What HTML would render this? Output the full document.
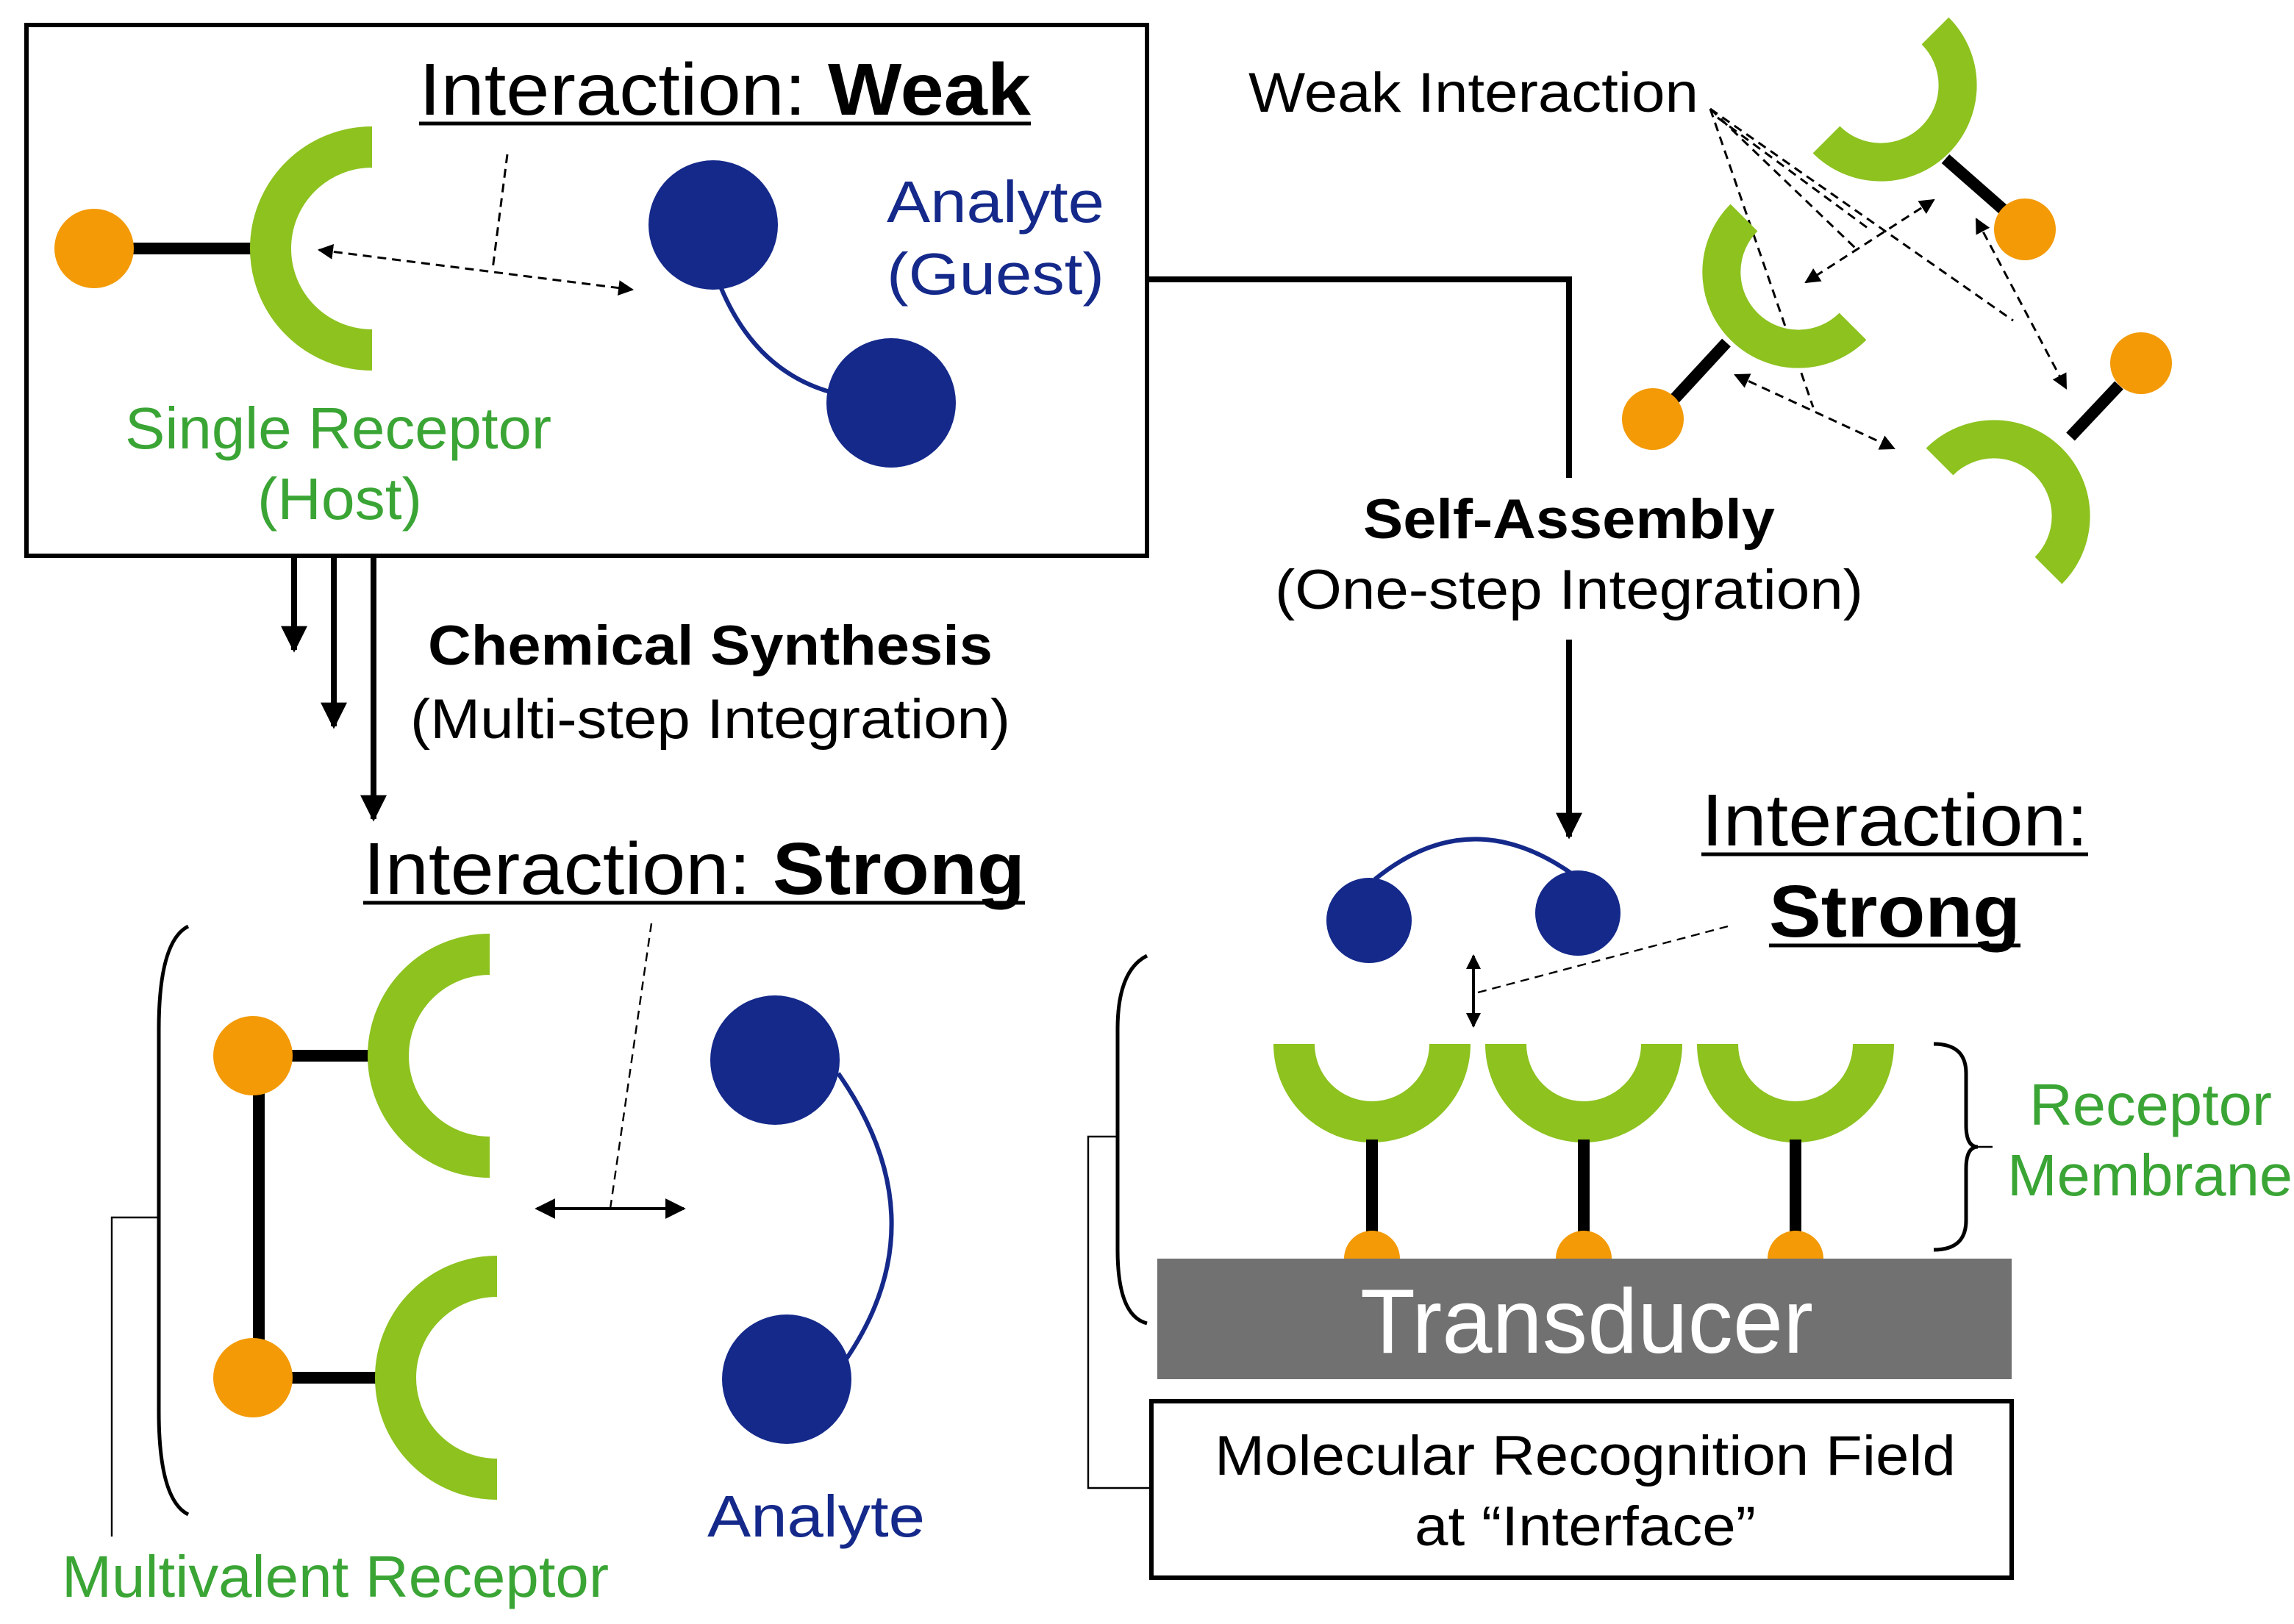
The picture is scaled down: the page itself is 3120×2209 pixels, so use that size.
<!DOCTYPE html>
<html><head><meta charset="utf-8"><style>html,body{margin:0;padding:0;background:#fff}svg{display:block}</style></head>
<body>
<svg width="3120" height="2209" viewBox="0 0 1560 1104.5" xmlns="http://www.w3.org/2000/svg" font-family="Liberation Sans, sans-serif">
<defs>
<marker id="a" viewBox="0 0 10 10" refX="9" refY="5" markerWidth="7" markerHeight="7" orient="auto-start-reverse"><path d="M0,0L10,5L0,10z" fill="#000"/></marker>
<marker id="c" viewBox="0 0 10 10" refX="9" refY="5" markerWidth="4.5" markerHeight="4.5" orient="auto-start-reverse"><path d="M0,0L10,5L0,10z" fill="#000"/></marker>
<marker id="b" viewBox="0 0 10 10" refX="9" refY="5" markerWidth="5" markerHeight="5" orient="auto-start-reverse"><path d="M0,0L10,5L0,10z" fill="#000"/></marker>
</defs>
<g fill="none">
<rect x="18" y="17" width="762" height="361" stroke="#000" stroke-width="3"/>
<line x1="90" y1="169" x2="180" y2="169" stroke="#000" stroke-width="8"/>
<path d="M253,100 A69,69 0 0 0 253,238" stroke="#8dc21f" stroke-width="28"/>
<line x1="345" y1="105" x2="335" y2="183" stroke="#000" stroke-width="1.5" stroke-dasharray="6,4"/>
<line x1="217" y1="170" x2="430" y2="197" stroke="#000" stroke-width="1.5" stroke-dasharray="6,4" marker-start="url(#a)" marker-end="url(#a)"/>
<path d="M490,195 Q515,255 570,268" stroke="#14298a" stroke-width="3"/>
<line x1="200" y1="378" x2="200" y2="442" stroke="#000" stroke-width="4" marker-end="url(#c)"/>
<line x1="227" y1="378" x2="227" y2="494" stroke="#000" stroke-width="4" marker-end="url(#c)"/>
<line x1="254" y1="378" x2="254" y2="557" stroke="#000" stroke-width="4" marker-end="url(#c)"/>
<path d="M128,630 Q108,640 108,700 L108,960 Q108,1020 128,1030" stroke="#000" stroke-width="2.5"/>
<polyline points="108,828 76,828 76,1045" stroke="#000" stroke-width="1.2"/>
<line x1="176" y1="718" x2="176" y2="937" stroke="#000" stroke-width="8"/>
<line x1="172" y1="718" x2="260" y2="718" stroke="#000" stroke-width="8"/>
<line x1="172" y1="937" x2="262" y2="937" stroke="#000" stroke-width="8"/>
<path d="M333,649 A69,69 0 0 0 333,787" stroke="#8dc21f" stroke-width="28"/>
<path d="M338,868 A69,69 0 0 0 338,1006" stroke="#8dc21f" stroke-width="28"/>
<line x1="443" y1="628" x2="415" y2="822" stroke="#000" stroke-width="1.2" stroke-dasharray="6,4"/>
<line x1="365" y1="822" x2="465" y2="822" stroke="#000" stroke-width="2" marker-start="url(#a)" marker-end="url(#a)"/>
<path d="M570,730 Q640,830 575,925" stroke="#14298a" stroke-width="3"/>
<polyline points="780,190 1067,190 1067,325" stroke="#000" stroke-width="4"/>
<line x1="1067" y1="435" x2="1067" y2="569" stroke="#000" stroke-width="4" marker-end="url(#c)"/>
<g stroke="#000" stroke-width="1.5" stroke-dasharray="6,4">
<line x1="1163" y1="74" x2="1262" y2="169"/>
<line x1="1163" y1="74" x2="1369" y2="218"/>
<line x1="1163" y1="74" x2="1233" y2="277"/>
<line x1="1168" y1="80" x2="1270" y2="155"/>
<line x1="1315" y1="136" x2="1228" y2="192" marker-start="url(#a)" marker-end="url(#a)"/>
<line x1="1344" y1="149" x2="1405" y2="264" marker-start="url(#a)" marker-end="url(#a)"/>
<line x1="1180" y1="255" x2="1288" y2="305" marker-start="url(#a)" marker-end="url(#a)"/>
</g>
<line x1="1323" y1="108" x2="1364" y2="144" stroke="#000" stroke-width="8"/>
<line x1="1174" y1="233" x2="1138" y2="272" stroke="#000" stroke-width="8"/>
<line x1="1408" y1="297" x2="1441" y2="262" stroke="#000" stroke-width="8"/>
<path d="M1316,21 A52,52 0 0 1 1242,95" stroke="#8dc21f" stroke-width="26"/>
<path d="M1186,148 A52,52 0 0 0 1260,222" stroke="#8dc21f" stroke-width="26"/>
<path d="M1319,314 A52,52 0 0 1 1393,388" stroke="#8dc21f" stroke-width="26"/>
<path d="M935,598 Q1000,545 1070,595" stroke="#14298a" stroke-width="3"/>
<line x1="1005" y1="675" x2="1175" y2="630" stroke="#000" stroke-width="1.2" stroke-dasharray="6,4"/>
<line x1="1002" y1="650" x2="1002" y2="698" stroke="#000" stroke-width="2" marker-start="url(#b)" marker-end="url(#b)"/>
<path d="M780,650 Q760,660 760,700 L760,850 Q760,895 780,900" stroke="#000" stroke-width="2.5"/>
<polyline points="760,773 740,773 740,1012 783,1012" stroke="#000" stroke-width="1.2"/>
<path d="M1315,710 Q1337,710 1337,730 L1337,765 Q1337,780 1345,780 Q1337,780 1337,795 L1337,830 Q1337,850 1315,850" stroke="#000" stroke-width="2.5"/>
<line x1="1345" y1="780" x2="1355" y2="780" stroke="#000" stroke-width="1.2"/>
<g stroke="#8dc21f" stroke-width="28">
<path d="M880,710 A53,53 0 0 0 986,710"/>
<path d="M1024,710 A53,53 0 0 0 1130,710"/>
<path d="M1168,710 A53,53 0 0 0 1274,710"/>
</g>
<g stroke="#000" stroke-width="8">
<line x1="933" y1="775" x2="933" y2="845"/>
<line x1="1077" y1="775" x2="1077" y2="845"/>
<line x1="1221" y1="775" x2="1221" y2="845"/>
</g>
<rect x="783" y="953" width="585" height="120" stroke="#000" stroke-width="3"/>
</g>
<g fill="#f39a06">
<circle cx="64" cy="169" r="27"/>
<circle cx="172" cy="718" r="27"/>
<circle cx="172" cy="937" r="27"/>
<circle cx="1377" cy="156" r="21"/>
<circle cx="1124" cy="285" r="21"/>
<circle cx="1456" cy="247" r="21"/>
<circle cx="933" cy="856" r="19"/>
<circle cx="1077" cy="856" r="19"/>
<circle cx="1221" cy="856" r="19"/>
</g>
<g fill="#14298a">
<circle cx="485" cy="153" r="44"/>
<circle cx="606" cy="274" r="44"/>
<circle cx="527" cy="721" r="44"/>
<circle cx="535" cy="938" r="44"/>
<circle cx="931" cy="626" r="29"/>
<circle cx="1073" cy="621" r="29"/>
</g>
<rect x="787" y="856" width="581" height="82" fill="#717171"/>
<text x="925" y="920" font-size="62" fill="#fff" textLength="308" lengthAdjust="spacingAndGlyphs">Transducer</text>
<g font-size="50" fill="#000" lengthAdjust="spacingAndGlyphs">
<text x="285" y="78" textLength="416" lengthAdjust="spacingAndGlyphs">Interaction: <tspan font-weight="bold">Weak</tspan></text>
<text x="247" y="608" textLength="450" lengthAdjust="spacingAndGlyphs">Interaction: <tspan font-weight="bold">Strong</tspan></text>
<text x="1157" y="575" textLength="263" lengthAdjust="spacingAndGlyphs">Interaction:</text>
<text x="1203" y="637" font-weight="bold" textLength="171" lengthAdjust="spacingAndGlyphs">Strong</text>
</g>
<g stroke="#000" stroke-width="2.5">
<line x1="285" y1="84" x2="701" y2="84"/>
<line x1="247" y1="614" x2="697" y2="614"/>
<line x1="1157" y1="581" x2="1420" y2="581"/>
<line x1="1203" y1="643" x2="1374" y2="643"/>
</g>
<g font-size="38" fill="#000">
<text x="291" y="452" font-weight="bold" textLength="384" lengthAdjust="spacingAndGlyphs">Chemical Synthesis</text>
<text x="279" y="502" textLength="408" lengthAdjust="spacingAndGlyphs">(Multi-step Integration)</text>
<text x="927" y="366" font-weight="bold" textLength="280" lengthAdjust="spacingAndGlyphs">Self-Assembly</text>
<text x="867" y="414" textLength="400" lengthAdjust="spacingAndGlyphs">(One-step Integration)</text>
<text x="826" y="1003" textLength="504" lengthAdjust="spacingAndGlyphs">Molecular Recognition Field</text>
<text x="962" y="1051" textLength="232" lengthAdjust="spacingAndGlyphs">at “Interface”</text>
<text x="849" y="76" textLength="306" lengthAdjust="spacingAndGlyphs">Weak Interaction</text>
</g>
<g font-size="40">
<text x="603" y="151" fill="#14298a" textLength="148" lengthAdjust="spacingAndGlyphs">Analyte</text>
<text x="603" y="200" fill="#14298a" textLength="148" lengthAdjust="spacingAndGlyphs">(Guest)</text>
<text x="481" y="1045" fill="#14298a" textLength="148" lengthAdjust="spacingAndGlyphs">Analyte</text>
<text x="85" y="305" fill="#3aa535" textLength="290" lengthAdjust="spacingAndGlyphs">Single Receptor</text>
<text x="175" y="353" fill="#3aa535" textLength="112" lengthAdjust="spacingAndGlyphs">(Host)</text>
<text x="42" y="1086" fill="#3aa535" textLength="372" lengthAdjust="spacingAndGlyphs">Multivalent Receptor</text>
<text x="1380" y="765" fill="#3aa535" textLength="165" lengthAdjust="spacingAndGlyphs">Receptor</text>
<text x="1365" y="813" fill="#3aa535" textLength="194" lengthAdjust="spacingAndGlyphs">Membrane</text>
</g>
</svg>
</body></html>
